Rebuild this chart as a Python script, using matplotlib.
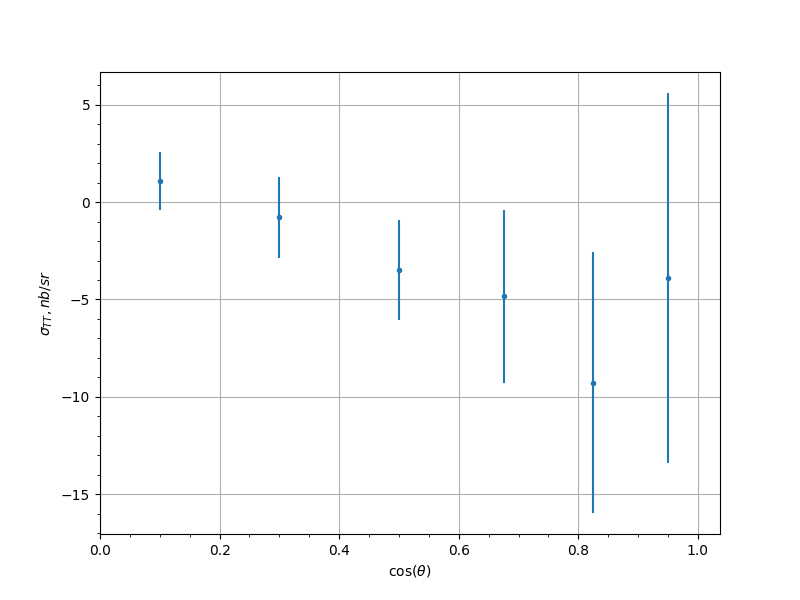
import matplotlib
matplotlib.use("Agg")
import matplotlib.pyplot as plt

cos_theta = [0.1, 0.3, 0.5, 0.675, 0.825, 0.95]
sigma_tt = [1.1, -0.79, -3.48, -4.84, -9.27, -3.89]
sigma_err = [1.49, 2.08, 2.55, 4.43, 6.69, 9.49]

fig = plt.figure(figsize=(8, 6), dpi=100)

plt.errorbar(cos_theta, sigma_tt, yerr=sigma_err, fmt=".")

plt.xlabel(r"$\cos(\theta)$")
plt.ylabel(r"$\sigma_{TT}, nb/sr$")

plt.xlim(0, 1.037)
plt.minorticks_on()
plt.grid(which="major")

plt.savefig("out.png")
